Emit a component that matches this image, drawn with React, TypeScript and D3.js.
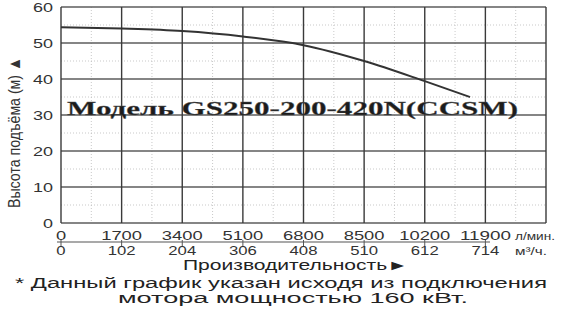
import React from "react";
import * as d3 from "d3";

const flowLpm = [0, 1700, 3400, 5100, 6800, 8500, 10200, 11470];
const headM = [54.4, 54.0, 53.3, 51.8, 49.4, 45.0, 39.4, 35.0];

const yTicks = [0, 10, 20, 30, 40, 50, 60];
const xTicksLpm = [0, 1700, 3400, 5100, 6800, 8500, 10200, 11900];
const xLabelsM3h = ["0", "102", "204", "306", "408", "510", "612", "714"];

const modelTitle = "Модель GS250-200-420N(CCSM)";
const yTitle = "Высота подъёма (м) ▲";
const xTitle = "Производительность►";
const unitLpm = "л/мин.";
const unitM3h = "м³/ч.";
const note1 = "* Данный график указан исходя из подключения";
const note2 = "мотора мощностью 160 кВт.";

export default function App() {
  const W = 562, H = 311;
  const x = d3.scaleLinear().domain([0, 13600]).range([61, 546]);
  const y = d3.scaleLinear().domain([0, 60]).range([223, 7]);
  const line = d3
    .line<number>()
    .x((_, i) => x(flowLpm[i]))
    .y((d) => y(d))
    .curve(d3.curveMonotoneX);

  const majorX = d3.range(0, 13601, 1700);
  const minorX = d3.range(850, 13600, 1700);
  const minorY = d3.range(5, 60, 10);
  const sans = "Liberation Sans, Arial, sans-serif";

  return (
    <div style={{ position: "absolute", left: 0, top: 0 }}>
      <svg width={W} height={H} style={{ display: "block", background: "#fff" }}>
        {minorX.map((v) => (
          <line key={"mx" + v} x1={x(v)} x2={x(v)} y1={y(60)} y2={y(0)} stroke="#bbb" strokeWidth={0.8} strokeDasharray="1,2" />
        ))}
        {minorY.map((v) => (
          <line key={"my" + v} x1={x(0)} x2={x(13600)} y1={y(v)} y2={y(v)} stroke="#bbb" strokeWidth={0.8} strokeDasharray="1,2" />
        ))}
        {yTicks.map((v) => (
          <line key={"gy" + v} x1={x(0)} x2={x(13600)} y1={y(v)} y2={y(v)} stroke="#5c5c5c" strokeWidth={1.5} />
        ))}
        {majorX.map((v) => (
          <line key={"gx" + v} x1={x(v)} x2={x(v)} y1={y(60)} y2={y(0)} stroke="#3a3a3a" strokeWidth={1.4} />
        ))}
        <path d={line(headM) || ""} fill="none" stroke="#333" strokeWidth={2} />
        <text x={67} y={115} fontFamily="Liberation Serif, Times New Roman, serif" fontWeight="bold" fontSize={19}
          textLength={451} lengthAdjust="spacingAndGlyphs" fill="#1c1c1c" stroke="#555" strokeWidth={0.3}>
          {modelTitle}
        </text>
        {yTicks.map((v) => (
          <text key={"yt" + v} x={53} y={y(v) + 4.5} textAnchor="end" fontFamily={sans} fontSize={13}
            textLength={String(v).length * 10} lengthAdjust="spacingAndGlyphs" fill="#333">
            {v}
          </text>
        ))}
        <text transform={`translate(20,${(57 + 208) / 2}) rotate(-90)`} textAnchor="middle" fontFamily={sans}
          fontSize={17} textLength={151} lengthAdjust="spacingAndGlyphs" fill="#333">
          {yTitle}
        </text>
        {xTicksLpm.map((v) => (
          <text key={"xl" + v} x={x(v)} y={239.5} textAnchor="middle" fontFamily={sans} fontSize={13}
            textLength={String(v).length * 10.2} lengthAdjust="spacingAndGlyphs" fill="#333">
            {v}
          </text>
        ))}
        <text x={515} y={239.5} fontFamily={sans} fontSize={11} textLength={40} lengthAdjust="spacingAndGlyphs" fill="#333">
          {unitLpm}
        </text>
        <line x1={57} x2={490} y1={242} y2={242} stroke="#555" strokeWidth={1.2} />
        {xTicksLpm.map((v) => (
          <line key={"tk" + v} x1={x(v)} x2={x(v)} y1={240} y2={246} stroke="#555" strokeWidth={1} />
        ))}
        {xLabelsM3h.map((s, i) => (
          <text key={"xm" + i} x={x(xTicksLpm[i])} y={255} textAnchor="middle" fontFamily={sans} fontSize={13}
            textLength={s.length * 9.3} lengthAdjust="spacingAndGlyphs" fill="#333">
            {s}
          </text>
        ))}
        <text x={515} y={255} fontFamily={sans} fontSize={11} textLength={32} lengthAdjust="spacingAndGlyphs" fill="#333">
          {unitM3h}
        </text>
        <text x={183} y={270} fontFamily={sans} fontSize={14} textLength={225} lengthAdjust="spacingAndGlyphs" fill="#222">
          {xTitle}
        </text>
        <text x={15} y={288} fontFamily={sans} fontSize={14} textLength={532} lengthAdjust="spacingAndGlyphs" fill="#222">
          {note1}
        </text>
        <text x={118} y={303} fontFamily={sans} fontSize={14} textLength={350} lengthAdjust="spacingAndGlyphs" fill="#222">
          {note2}
        </text>
      </svg>
    </div>
  );
}
